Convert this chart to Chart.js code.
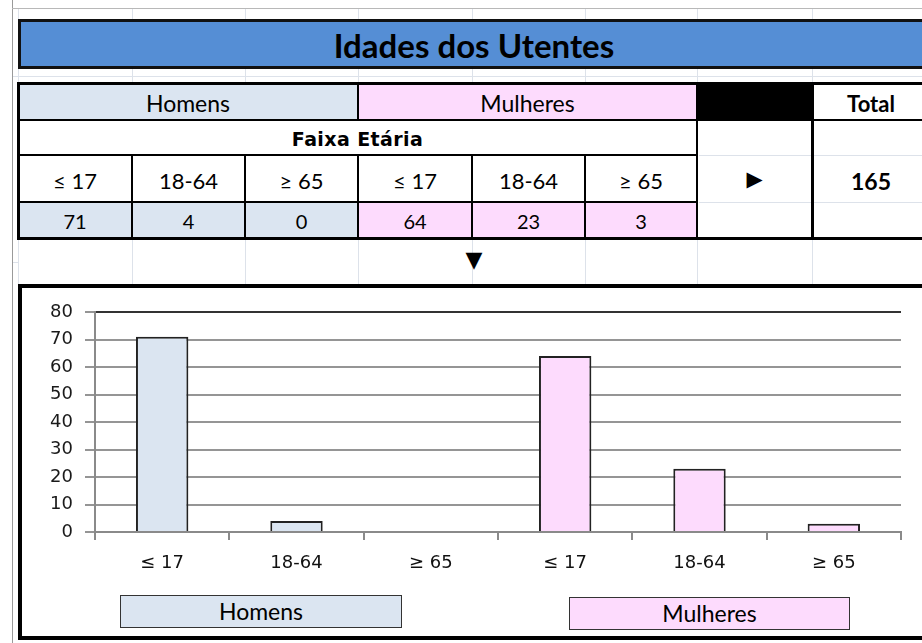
<!DOCTYPE html>
<html lang="pt">
<head>
<meta charset="utf-8">
<title>Idades dos Utentes</title>
<script src="https://cdn.jsdelivr.net/npm/chart.js@4"></script>
<style>
  html, body { margin: 0; padding: 0; background: #fff; }
  body { width: 922px; height: 643px; overflow: hidden; position: relative; font-family: Lato, sans-serif; color: #000; }
  .abs { position: absolute; box-sizing: border-box; }
  .cell { position: absolute; box-sizing: border-box; display: flex; align-items: center; justify-content: center; line-height: 1; }
  .line { position: absolute; background: #000; }
  .faint { position: absolute; background: #dde2ea; }
  #title { left: 18px; top: 19px; width: 912px; height: 50px; background: #558ed5; border: 3px solid #111;
           font: bold 33px Lato, sans-serif; padding-top: 2px; }
  #chartBox { left: 18px; top: 284px; width: 920px; height: 356px; border: 4px solid #000; }
  #chartWrap { left: 22px; top: 288px; width: 900px; height: 300px; }
  .legendBox { position: absolute; box-sizing: border-box; border: 1.5px solid #333; display: flex; align-items: center;
               justify-content: center; font: 23px Lato, sans-serif; padding-bottom: 2px; }
</style>
</head>
<body>
<div class="abs" style="left:12px;top:0;width:1px;height:643px;background:#9a9a9a"></div>
<div class="abs" style="left:12px;top:8px;width:910px;height:1px;background:#b8b8b8"></div>
<div id="title" class="cell">Idades dos Utentes</div>
<div id="table"></div>
<div class="cell" style="left:460px;top:246px;width:28px;height:26px;font:22px 'DejaVu Sans'">▼</div>
<div id="chartBox" class="abs"></div>
<div id="chartWrap" class="abs"><canvas id="ageChart" width="900" height="300"></canvas></div>
<div class="legendBox" style="left:120px;top:595px;width:282px;height:33px;background:#dbe5f1">Homens</div>
<div class="legendBox" style="left:569px;top:597px;width:281px;height:33px;background:#fddbfd">Mulheres</div>

<script>
// === Data ===
const ageGroups = ["≤ 17", "18-64", "≥ 65"];
const genders = ["Homens", "Mulheres"];
const homensValues = [71, 4, 0];
const mulheresValues = [64, 23, 3];
const yTicks = [0, 10, 20, 30, 40, 50, 60, 70, 80];

const homensColor = "#dbe5f1";
const mulheresColor = "#fddbfd";

// six categories on the x axis: the age groups of each gender
const categories = [...ageGroups, ...ageGroups];
const homensData = [...homensValues, ...ageGroups.map(() => null)];
const mulheresData = [...ageGroups.map(() => null), ...mulheresValues];
const total = [...homensValues, ...mulheresValues].reduce((a, b) => a + b, 0);

// === Table above the chart ===
const table = document.getElementById("table");
const colX = [18, 132, 245, 358, 472, 585, 697, 812, 930];
const rowY = [83, 120, 155, 202, 238];

function cell(x1, y1, x2, y2, text, style) {
  const d = document.createElement("div");
  d.className = "cell";
  d.style.cssText = `left:${x1}px;top:${y1}px;width:${x2 - x1}px;height:${y2 - y1}px;` + (style || "");
  d.textContent = text;
  table.appendChild(d);
}
function line(x1, y1, x2, y2, w, cls) {
  const d = document.createElement("div");
  d.className = cls || "line";
  if (y1 === y2) d.style.cssText = `left:${x1}px;top:${y1 - w / 2}px;width:${x2 - x1}px;height:${w}px`;
  else d.style.cssText = `left:${x1 - w / 2}px;top:${y1}px;width:${w}px;height:${y2 - y1}px`;
  table.appendChild(d);
}

// faint spreadsheet grid in the gaps
colX.forEach(x => {
  line(x, 9, x, 19, 1, "faint");
  line(x, 69, x, 83, 1, "faint");
  line(x, 238, x, 284, 1, "faint");
});
line(13, 76, 922, 76, 1, "faint");
line(13, 262, 18, 262, 1, "faint");

// row 1
cell(colX[0], rowY[0], colX[3], rowY[1], genders[0], `background:${homensColor};font:23px Lato;padding-top:3px`);
cell(colX[3], rowY[0], colX[6], rowY[1], genders[1], `background:${mulheresColor};font:23px Lato;padding-top:3px`);
cell(colX[6], rowY[0], colX[7], rowY[1], "", "background:#000");
cell(colX[7], rowY[0], colX[8], rowY[1], "Total", "font:bold 22px Lato;padding-top:3px");
// row 2
cell(colX[0], rowY[1], colX[6], rowY[2], "Faixa Etária", "font:bold 19px 'DejaVu Sans';letter-spacing:0.4px;padding-top:2px");
cell(colX[6], rowY[1], colX[7], rowY[4], "▶", "font:21px 'DejaVu Sans'");
cell(colX[7], rowY[1], colX[8], rowY[4], String(total), "font:bold 23px Lato;padding-top:4px");
// rows 3 and 4
categories.forEach((label, i) => {
  cell(colX[i], rowY[2], colX[i + 1], rowY[3], label, "font:22px Lato;padding-top:3px");
  const v = i < 3 ? homensValues[i] : mulheresValues[i - 3];
  const bg = i < 3 ? homensColor : mulheresColor;
  cell(colX[i], rowY[3], colX[i + 1], rowY[4], String(v), `background:${bg};font:20px Lato;padding-top:2px`);
});

// faint lines inside the unmerged right columns
line(colX[6] + 2, rowY[2], colX[8], rowY[2], 1, "faint");
line(colX[6] + 2, rowY[3], colX[8], rowY[3], 1, "faint");

// borders
line(colX[0], rowY[0], colX[8], rowY[0], 3);
line(colX[0], rowY[1], colX[8], rowY[1], 2.5);
line(colX[0], rowY[2], colX[6], rowY[2], 1.5);
line(colX[0], rowY[3], colX[6], rowY[3], 2);
line(colX[0] - 1.5, rowY[4], colX[8], rowY[4], 3);
line(colX[0], rowY[0] - 1.5, colX[0], rowY[4] + 1.5, 3);
[1, 2, 4, 5].forEach(i => line(colX[i], rowY[2], colX[i], rowY[4], 1.5));
line(colX[3], rowY[0], colX[3], rowY[1], 2);
line(colX[3], rowY[2], colX[3], rowY[4], 2);
line(colX[6], rowY[0], colX[6], rowY[4], 2);
line(colX[7], rowY[0], colX[7], rowY[4], 3);

// === Chart ===
const ctx = document.getElementById("ageChart").getContext("2d");
const ageChart = new Chart(ctx, {
  type: "bar",
  data: {
    labels: categories,
    datasets: [
      {
        label: genders[0],
        data: homensData,
        backgroundColor: homensColor,
        borderColor: "#222",
        borderWidth: c => (c.raw === 0 ? 0 : 2),
      },
      {
        label: genders[1],
        data: mulheresData,
        backgroundColor: mulheresColor,
        borderColor: "#222",
        borderWidth: c => (c.raw === 0 ? 0 : 2),
      },
    ],
  },
  options: {
    responsive: false,
    animation: false,
    skipNull: true,
    datasets: { bar: { categoryPercentage: 1, barPercentage: 0.39 } },
    layout: { padding: { left: 0, top: 24, right: 21, bottom: 0 } },
    plugins: { legend: { display: false }, tooltip: { enabled: false } },
    scales: {
      x: {
        grid: {
          offset: true,
          color: c => (c.index === categories.length ? "#333" : "rgba(0,0,0,0)"),
          tickColor: "#8a8a8a",
          tickLength: 8,
          lineWidth: 2,
        },
        border: { color: "#8a8a8a", width: 2 },
        ticks: { font: { family: "DejaVu Sans", size: 18 }, color: "#111", padding: 13, maxRotation: 0, autoSkip: false },
        afterFit: s => { s.height = 56; },
      },
      y: {
        min: yTicks[0],
        max: yTicks[yTicks.length - 1],
        afterBuildTicks: s => { s.ticks = yTicks.map(v => ({ value: v })); },
        ticks: { font: { family: "DejaVu Sans", size: 18 }, color: "#1a1a1a", padding: 12 },
        grid: {
          color: c => (c.tick && c.tick.value === 80 ? "#333" : "#959595"),
          tickColor: "#959595",
          lineWidth: 2,
          tickLength: 10,
        },
        border: { color: "#8a8a8a", width: 2 },
        afterFit: s => { s.width = 73; },
      },
    },
  },
});
</script>
</body>
</html>
